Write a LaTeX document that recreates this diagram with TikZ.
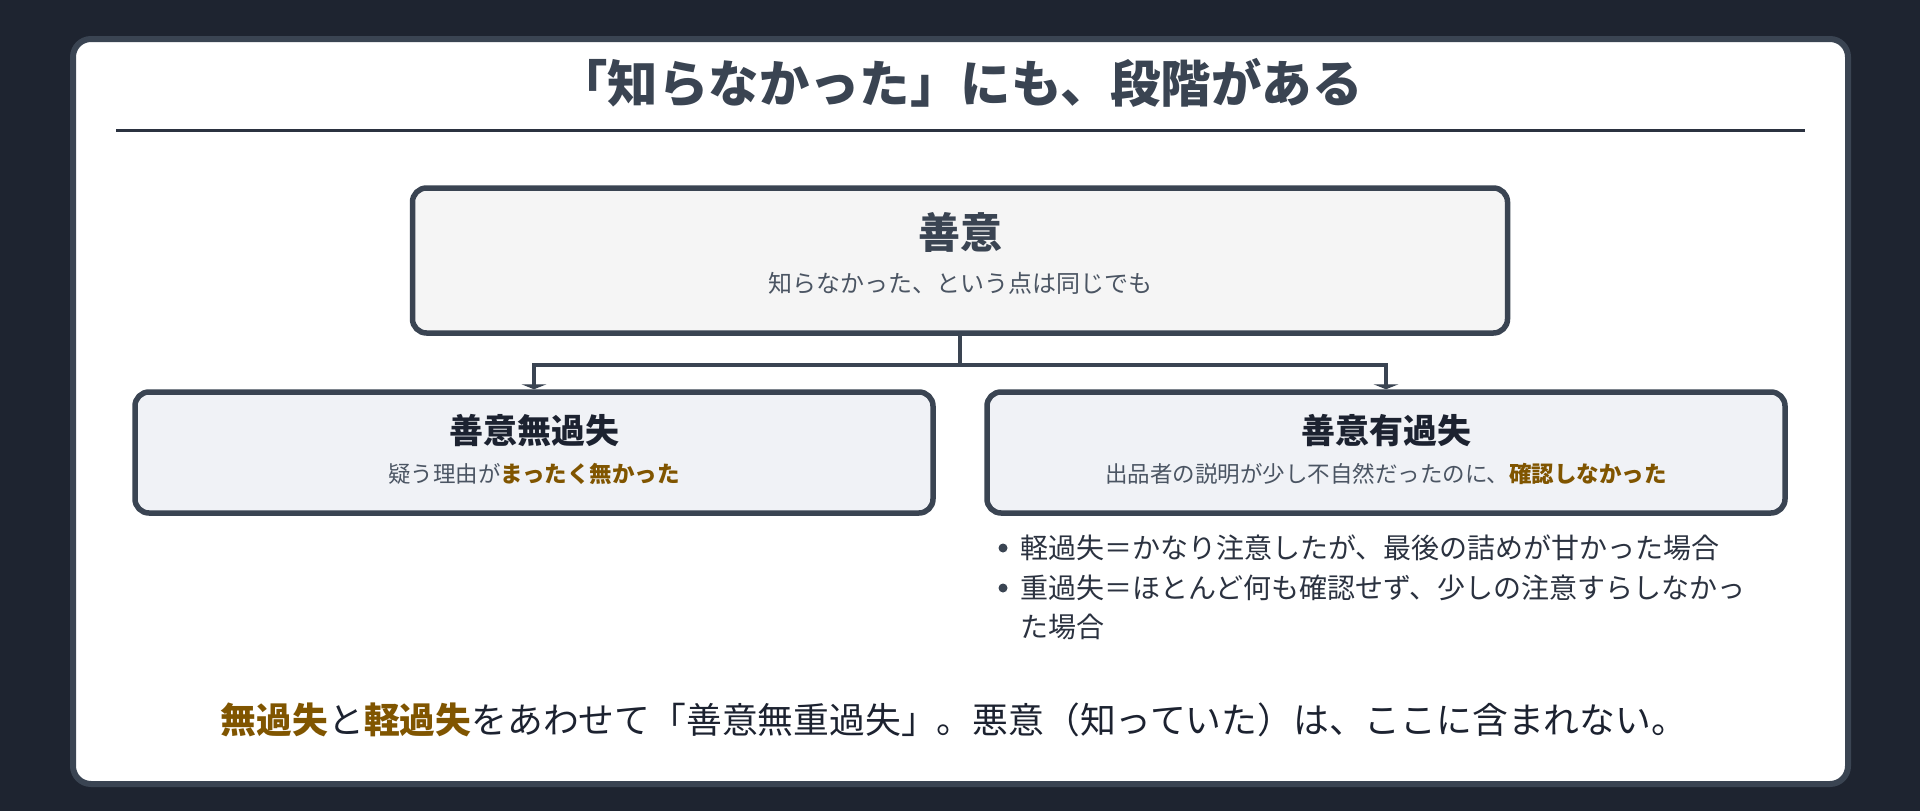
\documentclass[tikz,border=0pt]{standalone}
\usepackage{fontspec}
\setmainfont{Noto Sans CJK JP}
\usetikzlibrary{arrows.meta}

\definecolor{bgdark}{HTML}{1E2430}
\definecolor{slate}{HTML}{3A4452}
\definecolor{rulecol}{HTML}{2B3240}
\definecolor{boxgray}{HTML}{F5F5F5}
\definecolor{boxblue}{HTML}{F0F2F6}
\definecolor{inkdark}{HTML}{1C2230}
\definecolor{subgray}{HTML}{4B5563}
\definecolor{accentbrown}{HTML}{805500}

\newcommand{\hilite}[1]{{\bfseries\color{accentbrown}#1}}

\pgfdeclarelayer{background}
\pgfsetlayers{background,main}

\begin{document}
\begin{tikzpicture}[x=1pt,y=-1pt]

	% INPUTS
	\newcommand{\nofaultx}{534}		% centre of the left box
	\newcommand{\faultx}{1386}		% centre of the right box
	\newcommand{\casew}{798}		% width of the two lower boxes
	\newcommand{\casey}{452.5}		% centre height of the two lower boxes

	% styles
	\tikzstyle{card}=[draw=slate,line width=6pt,fill=white,rounded corners=18pt];
	\tikzstyle{topbox}=[draw=slate,line width=5.5pt,fill=boxgray,rounded corners=14pt,minimum width=1095pt,minimum height=145pt,inner sep=0pt];
	\tikzstyle{casebox}=[topbox,fill=boxblue,minimum width=\casew pt,minimum height=121pt];
	\tikzstyle{txt}=[anchor=base,inner sep=0pt];
	\tikzstyle{subtxt}=[txt,text=subgray,font=\fontsize{22.5}{27}\selectfont];
	\tikzstyle{casehead}=[txt,text=inkdark,font=\fontsize{34}{40}\selectfont\bfseries];
	\tikzstyle{bullet}=[circle,fill=slate,inner sep=0pt,minimum size=9pt];
	\tikzstyle{bullettxt}=[txt,anchor=base west,align=left,text=rulecol,font=\fontsize{28}{39}\selectfont];
	\tikzstyle{conn}=[draw=slate,line width=4pt];

	% page and card
	\useasboundingbox (0,0) rectangle (1920,811);
	\begin{pgfonlayer}{background}
		\fill[bgdark] (0,0) rectangle (1920,811);
		\draw[card] (73,39) rectangle (1848,784);
	\end{pgfonlayer}

	% title and rule
	\node[txt,text=slate,font=\fontsize{50.4}{60}\selectfont\bfseries] (title) at (960,102.5) {「知らなかった」にも、段階がある};
	\draw[rulecol,line width=3pt] (116,130) -- (1805,130);

	% top box
	\node[topbox] (goodfaith) at (960,260.5) {};
	\node[txt,text=slate,font=\fontsize{42}{50}\selectfont\bfseries] (goodfaithhead) at (960,248) {善意};
	\node[subtxt,font=\fontsize{24}{29}\selectfont] (goodfaithsub) at (960,292) {知らなかった、という点は同じでも};

	% the two cases
	\node[casebox] (nofault) at (\nofaultx,\casey) {};
	\node[casehead] (nofaulthead) at (\nofaultx,443) {善意無過失};
	\node[subtxt] (nofaultsub) at (\nofaultx,482.5) {疑う理由が\hilite{まったく無かった}};

	\node[casebox] (fault) at (\faultx,\casey) {};
	\node[casehead] (faulthead) at (\faultx,443) {善意有過失};
	\node[subtxt] (faultsub) at (\faultx,482.5) {出品者の説明が少し不自然だったのに、\hilite{確認しなかった}};

	% connectors, kept under the boxes so that only the edge of each tip shows
	\begin{pgfonlayer}{background}
		\draw[conn] (goodfaith.south) -- ++(0,29.5) coordinate (split);
		\draw[conn,-{Triangle[width=25pt,length=5pt]}] (split) -| (nofault.north);
		\draw[conn,-{Triangle[width=25pt,length=5pt]}] (split) -| (fault.north);
	\end{pgfonlayer}

	% bullet list under the right box
	\node[bullet] (dotlight) at (1003,548) {};
	\node[bullettxt] (light) at (1020,558.6) {軽過失＝かなり注意したが、最後の詰めが甘かった場合};
	\node[bullet] (dotgross) at (1003,588) {};
	\node[bullettxt] (gross) at (1020,637.6) {重過失＝ほとんど何も確認せず、少しの注意すらしなかっ\\た場合};

	% summary line
	\node[txt,text=inkdark,font=\fontsize{35.8}{42}\selectfont] (summary) at (954,733.5) {\hilite{無過失}と\hilite{軽過失}をあわせて「善意無重過失」。悪意（知っていた）は、ここに含まれない。};

\end{tikzpicture}
\end{document}
